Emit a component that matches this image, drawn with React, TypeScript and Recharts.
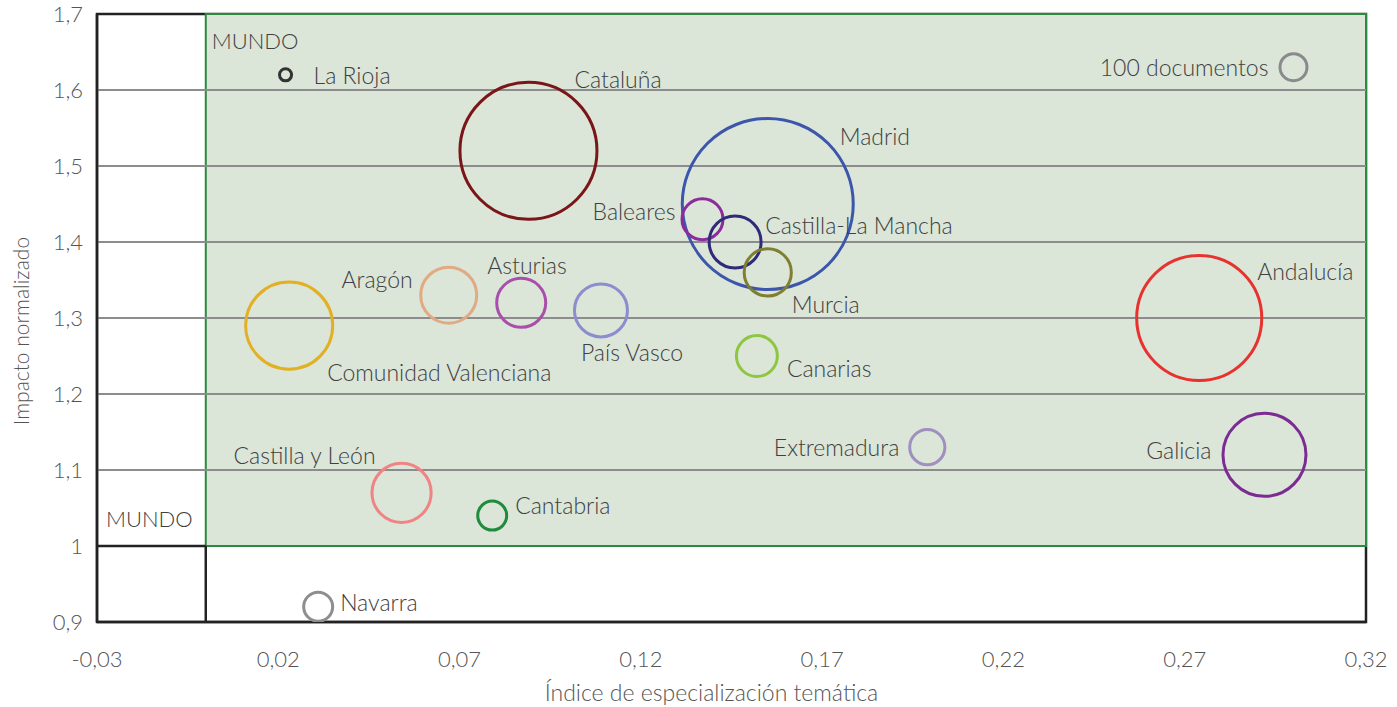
import {
  ScatterChart,
  Scatter,
  XAxis,
  YAxis,
  ZAxis,
  ReferenceArea,
  ReferenceLine,
  Label,
} from "recharts";

const regions = [
  "La Rioja",
  "Cataluña",
  "Madrid",
  "Baleares",
  "Castilla-La Mancha",
  "Murcia",
  "Andalucía",
  "Galicia",
  "Extremadura",
  "Canarias",
  "País Vasco",
  "Asturias",
  "Aragón",
  "Comunidad Valenciana",
  "Castilla y León",
  "Cantabria",
  "Navarra",
  "100 documentos",
];

// índice de especialización temática
const especializacion = [
  0.022, 0.089, 0.155, 0.137, 0.146, 0.155, 0.274, 0.292, 0.199, 0.152, 0.109,
  0.087, 0.067, 0.023, 0.054, 0.079, 0.031, 0.3,
];

// impacto normalizado
const impacto = [
  1.62, 1.52, 1.45, 1.43, 1.4, 1.36, 1.3, 1.12, 1.13, 1.25, 1.31, 1.32, 1.33,
  1.29, 1.07, 1.04, 0.92, 1.63,
];

// documentos (tamaño de la burbuja)
const documentos = [
  20, 2575, 4010, 230, 370, 305, 2145, 945, 170, 230, 385, 330, 430, 1040, 480,
  115, 115, 100,
];

const xTicks = [-0.03, 0.02, 0.07, 0.12, 0.17, 0.22, 0.27, 0.32];
const yTicks = [0.9, 1, 1.1, 1.2, 1.3, 1.4, 1.5, 1.6, 1.7];
const gridLines = [1.1, 1.2, 1.3, 1.4, 1.5, 1.6];

const colors: Record<string, string> = {
  "La Rioja": "#333333",
  "Cataluña": "#7a1518",
  "Madrid": "#3b56aa",
  "Baleares": "#8c2b9c",
  "Castilla-La Mancha": "#2f2b7a",
  "Murcia": "#7f7f2f",
  "Andalucía": "#e8322f",
  "Galicia": "#7b2b92",
  "Extremadura": "#a090bf",
  "Canarias": "#8ec640",
  "País Vasco": "#8b8dcf",
  "Asturias": "#a94fab",
  "Aragón": "#e2aa82",
  "Comunidad Valenciana": "#e2b022",
  "Castilla y León": "#f08484",
  "Cantabria": "#1f8b3d",
  "Navarra": "#8e8e90",
  "100 documentos": "#8a8a8c",
};

// label offset from bubble centre: [dx, dy, anchor]
const labelAt: Record<string, [number, number, string]> = {
  "La Rioja": [28, 0, "start"],
  "Cataluña": [46, -72, "start"],
  "Madrid": [72, -68, "start"],
  "Baleares": [-27, -8, "end"],
  "Castilla-La Mancha": [30, -17, "start"],
  "Murcia": [24, 32, "start"],
  "Andalucía": [58, -47, "start"],
  "Galicia": [-53, -5, "end"],
  "Extremadura": [-28, 0, "end"],
  "Canarias": [30, 12, "start"],
  "País Vasco": [-20, 42, "start"],
  "Asturias": [-34, -38, "start"],
  "Aragón": [-36, -16, "end"],
  "Comunidad Valenciana": [38, 46, "start"],
  "Castilla y León": [-26, -38, "end"],
  "Cantabria": [23, -11, "start"],
  "Navarra": [22, -5, "start"],
  "100 documentos": [-25, 0, "end"],
};

const data = regions.map((name, i) => ({
  name,
  x: especializacion[i],
  y: impacto[i],
  z: documentos[i],
}));

const font = "Lato, 'Open Sans', sans-serif";
const textColor = "#404040";
const axisText = "#555555";

const fmt = (v: number) => String(Number(v.toFixed(2))).replace(".", ",");

const Bubble = (props: any) => {
  const { cx, cy, payload } = props;
  const r = props.size ? Math.sqrt(props.size / Math.PI) : props.width / 2;
  const [dx, dy, anchor] = labelAt[payload.name];
  return (
    <g>
      <circle
        cx={cx}
        cy={cy}
        r={r}
        fill="none"
        stroke={colors[payload.name]}
        strokeWidth={3}
      />
      <text
        x={cx + dx}
        y={cy + dy}
        textAnchor={anchor as any}
        dominantBaseline="central"
        fontFamily={font}
        fontWeight={300}
        fontSize={23}
        fill={textColor}
      >
        {payload.name}
      </text>
    </g>
  );
};

export default function App() {
  return (
    <div style={{ width: 1397, height: 707 }}>
      <style>{`body{margin:0}`}</style>
      <ScatterChart
        width={1397}
        height={707}
        margin={{ top: 14, right: 31, bottom: 0, left: 0 }}
      >
        <XAxis
          type="number"
          dataKey="x"
          domain={[-0.03, 0.32]}
          ticks={xTicks}
          tickFormatter={fmt}
          allowDataOverflow
          height={85}
          tickLine={false}
          tickSize={0}
          tickMargin={29}
          axisLine={{ stroke: "#222", strokeWidth: 2.5 }}
          tick={{ fontSize: 22, fill: axisText, fontFamily: font, fontWeight: 300 }}
        >
          <Label
            value="Índice de especialización temática"
            position="insideBottom"
            offset={6}
            dx={-20}
            style={{ fontSize: 23, fill: axisText, fontFamily: font, fontWeight: 300 }}
          />
        </XAxis>
        <YAxis
          type="number"
          dataKey="y"
          domain={[0.9, 1.7]}
          ticks={yTicks}
          tickFormatter={fmt}
          allowDataOverflow
          width={97}
          tickLine={false}
          tickSize={0}
          tickMargin={14}
          axisLine={{ stroke: "#222", strokeWidth: 2.5 }}
          tick={{ fontSize: 22, fill: axisText, fontFamily: font, fontWeight: 300 }}
        >
          <Label
            value="Impacto normalizado"
            angle={-90}
            position="insideLeft"
            offset={22}
            dy={13}
            style={{
              fontSize: 21,
              fill: axisText,
              fontFamily: font,
              fontWeight: 300,
              textAnchor: "middle",
            }}
          />
        </YAxis>
        <ZAxis type="number" dataKey="z" domain={[0, 10000]} range={[0, 57256]} />

        <ReferenceArea
          x1={-0.03}
          x2={0.32}
          y1={0.9}
          y2={1.7}
          fill="none"
          stroke="#222"
          strokeWidth={2.5}
        />
        <ReferenceArea
          x1={-0.03}
          x2={0}
          y1={1}
          y2={1.7}
          fill="none"
          stroke="none"
        >
          <Label
            value="MUNDO"
            position="insideBottomLeft"
            offset={9}
            dy={-10}
            style={{ fontSize: 22, fill: textColor, fontFamily: font, fontWeight: 300 }}
          />
        </ReferenceArea>
        <ReferenceArea
          x1={0}
          x2={0.32}
          y1={1}
          y2={1.7}
          fill="#dbe5d8"
          fillOpacity={1}
          stroke="#2a8a3e"
          strokeWidth={2}
        >
          <Label
            value="MUNDO"
            position="insideTopLeft"
            offset={6}
            dy={13}
            style={{ fontSize: 22, fill: textColor, fontFamily: font, fontWeight: 300 }}
          />
        </ReferenceArea>
        <ReferenceLine
          segment={[
            { x: 0, y: 0.9 },
            { x: 0, y: 1 },
          ]}
          stroke="#222"
          strokeWidth={2.5}
        />
        <ReferenceLine
          segment={[
            { x: -0.03, y: 1 },
            { x: 0, y: 1 },
          ]}
          stroke="#222"
          strokeWidth={2.5}
        />
        {gridLines.map((g) => (
          <ReferenceLine key={g} y={g} stroke="#8c8c8c" strokeWidth={2} />
        ))}

        <Scatter data={data} shape={Bubble} isAnimationActive={false} />
      </ScatterChart>
    </div>
  );
}
